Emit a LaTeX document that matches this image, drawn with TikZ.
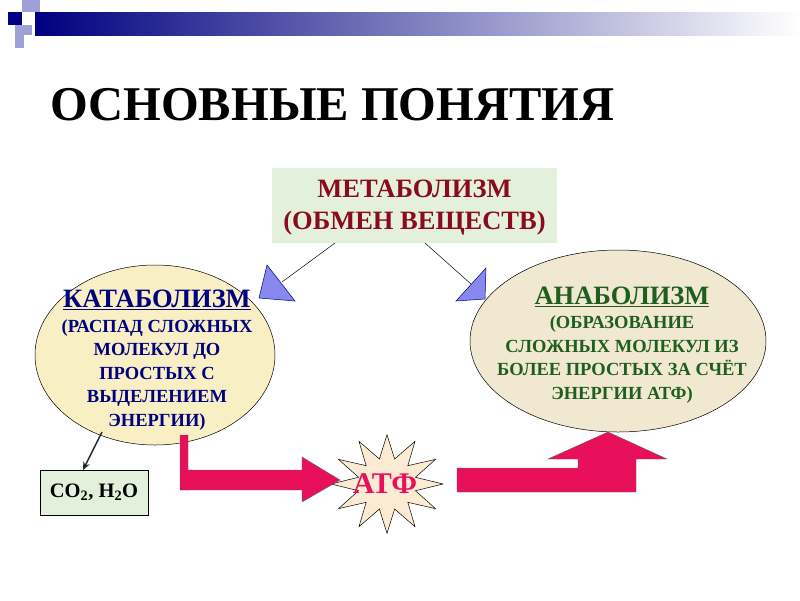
\documentclass[tikz,border=0pt]{standalone}
\usepackage{fontspec}
\setmainfont{Liberation Serif}
\usetikzlibrary{shapes.misc,shapes.geometric,arrows.meta}
\definecolor{navy}{HTML}{000080}
\definecolor{lpur}{HTML}{A0A0D8}
\definecolor{dred}{HTML}{8B0A1E}
\definecolor{pinkr}{HTML}{E8105A}
\definecolor{dgreen}{HTML}{1E5E1E}
\definecolor{boxg}{HTML}{E3F1DC}
\definecolor{ely}{HTML}{F8F0C4}
\definecolor{elb}{HTML}{F1E8D2}
\definecolor{starf}{HTML}{FAEBD2}
\definecolor{tri}{HTML}{8888EE}
\tikzset{
 txt/.style={font=\bfseries\fontsize{18.5}{23.5}\selectfont, align=center, inner sep=0pt},
 trig/.style={fill=tri, draw=navy, line width=0.5pt},
 pinkshape/.style={fill=pinkr, draw=black!60, line width=0.4pt}
}
\begin{document}
\begin{tikzpicture}[x=1pt,y=-1pt]
\useasboundingbox (0,0) rectangle (800,600);
\fill[white] (0,0) rectangle (800,600);
% header
\shade[left color=navy, right color=white] (35,12) rectangle (800,35);
\fill[lpur] (22,0) rectangle (40,12);
\fill[lpur] (15,25) rectangle (32,35);
\fill[lpur] (15,35) rectangle (24,48);
\fill[navy] (8,12) rectangle (22,25);
% title
\node[anchor=base west, inner sep=0pt, font=\bfseries\fontsize{48.5}{52}\selectfont] (title) at (50,120) {ОСНОВНЫЕ ПОНЯТИЯ};
% metabolism box
\node[fill=boxg, minimum width=285pt, minimum height=75pt, inner sep=0pt] (meta) at (414.5,205.5) {};
\node[txt, font=\bfseries\fontsize{26.5}{32}\selectfont, text=dred] (metat) at (414.5,208) {МЕТАБОЛИЗМ\\(ОБМЕН ВЕЩЕСТВ)};
% ellipses
\node[ellipse, draw=black, line width=0.5pt, fill=ely, minimum width=240pt, minimum height=180pt, inner sep=0pt] (kat) at (155,355) {};
\node[txt, text=navy] (katt) at (157,360) {{\fontsize{26.5}{28}\selectfont\underline{КАТАБОЛИЗМ}}\\[1pt](РАСПАД СЛОЖНЫХ\\МОЛЕКУЛ ДО\\ПРОСТЫХ С\\ВЫДЕЛЕНИЕМ\\ЭНЕРГИИ)};
\node[ellipse, draw=black, line width=0.5pt, fill=elb, minimum width=296pt, minimum height=182pt, inner sep=0pt] (ana) at (618,341) {};
\node[txt, text=dgreen] (anat) at (622,345) {{\fontsize{26.5}{28}\selectfont\underline{АНАБОЛИЗМ}}\\[1pt](ОБРАЗОВАНИЕ\\СЛОЖНЫХ МОЛЕКУЛ ИЗ\\БОЛЕЕ ПРОСТЫХ ЗА СЧЁТ\\ЭНЕРГИИ АТФ)};
% connectors with triangles
\coordinate (ml) at (335,243);
\coordinate (mr) at (425,243);
\coordinate (lt) at (282,282);
\coordinate (rt) at (471,284);
\draw[line width=0.5pt] (ml) -- (lt);
\draw[line width=0.5pt] (mr) -- (rt);
\draw[trig] (267,265) -- (259,298) -- (295,301) -- cycle;
\draw[trig] (486,268) -- (456,301) -- (485,299) -- cycle;
% CO2 box
\node[draw=black, line width=0.5pt, fill=boxg, minimum width=108pt, minimum height=45pt, inner sep=0pt, font=\bfseries\fontsize{20.5}{22}\selectfont] (co) at (94,492.5) {CO\textsubscript{2}, H\textsubscript{2}O};
\coordinate (ks) at (102,432);
\coordinate (ke) at (83,470);
\draw[-{Stealth[length=8pt,width=7pt]}, line width=1.5pt, black!85] (ks) -- (ke);
% star
\node[star, star points=12, star point ratio=1.9, fill=starf, draw=black, line width=0.5pt, minimum size=112pt, inner sep=0pt, yscale=0.88] (atf) at (387,484) {};
\node[font=\bfseries\fontsize{30}{32}\selectfont, text=pinkr, inner sep=0pt] (atft) at (385,484) {АТФ};
% pink arrows
\draw[pinkshape] (180,435) -- (188,435) -- (188,470) -- (302,470) -- (302,457) -- (340,480) -- (302,502) -- (302,490) -- (180,490) -- cycle;
\draw[pinkshape] (457,468) -- (578,468) -- (578,459) -- (548,459) -- (608,432) -- (667,459) -- (636,459) -- (636,492) -- (457,492) -- cycle;
\end{tikzpicture}
\end{document}
